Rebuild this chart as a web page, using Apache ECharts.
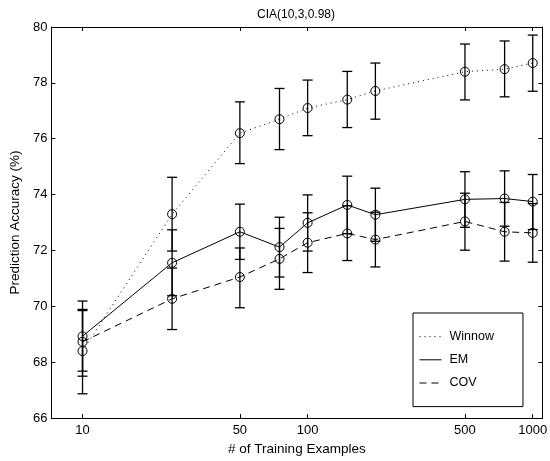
<!DOCTYPE html>
<html>
<head>
<meta charset="utf-8">
<script src="https://cdn.jsdelivr.net/npm/echarts@6/dist/echarts.min.js"></script>
<style>
html, body { margin: 0; padding: 0; background: #fff; }
#main { width: 550px; height: 461px; }
</style>
</head>
<body>
<div id="main"></div>
<script>
var chart = echarts.init(document.getElementById('main'));

// training set sizes
var sizes = [10, 25, 50, 75, 100, 150, 200, 500, 750, 1000];
var xTicks = [10, 50, 100, 500, 1000];

// accuracies with error bar ends (low / high)
var winnow     = [68.40, 73.30, 76.20, 76.70, 77.10, 77.40, 77.71, 78.40, 78.49, 78.71];
var winnowLow  = [66.87, 71.98, 75.11, 75.61, 76.11, 76.40, 76.70, 77.39, 77.50, 77.70];
var winnowHigh = [70.19, 74.62, 77.32, 77.80, 78.10, 78.41, 78.71, 79.39, 79.50, 79.71];

var em     = [68.93, 71.56, 72.67, 72.12, 72.99, 73.63, 73.28, 73.83, 73.86, 73.75];
var emLow  = [67.68, 70.38, 71.68, 71.05, 71.98, 72.60, 72.33, 72.83, 72.87, 72.75];
var emHigh = [69.89, 72.74, 73.66, 73.19, 73.99, 74.66, 74.23, 74.82, 74.85, 74.72];

var cov     = [68.73, 70.27, 71.05, 71.70, 72.28, 72.61, 72.39, 73.04, 72.67, 72.63];
var covLow  = [67.50, 69.17, 69.95, 70.61, 71.21, 71.64, 71.41, 72.01, 71.62, 71.58];
var covHigh = [69.85, 71.37, 72.09, 72.79, 73.35, 73.60, 73.37, 74.05, 73.72, 73.68];

var font = 'Liberation Sans, Arial, sans-serif';

function pts(ys) {
	return sizes.map(function (x, i) { return [x, ys[i]]; });
}
function bars(lo, hi) {
	return sizes.map(function (x, i) { return [x, lo[i], hi[i]]; });
}

function renderBar(params, api) {
	var top = api.coord([api.value(0), api.value(2)]);
	var bot = api.coord([api.value(0), api.value(1)]);
	var w = 5;
	var st = { stroke: '#000', lineWidth: 1.3 };
	return {
		type: 'group',
		children: [
			{ type: 'line', shape: { x1: top[0], y1: top[1], x2: bot[0], y2: bot[1] }, style: st },
			{ type: 'line', shape: { x1: top[0] - w, y1: top[1], x2: top[0] + w, y2: top[1] }, style: st },
			{ type: 'line', shape: { x1: bot[0] - w, y1: bot[1], x2: bot[0] + w, y2: bot[1] }, style: st }
		]
	};
}

function lineSeries(name, ys, dash) {
	return {
		name: name,
		type: 'line',
		data: pts(ys),
		symbol: 'circle',
		symbolSize: 9,
		z: 3,
		itemStyle: { color: 'rgba(0,0,0,0)', borderColor: '#000', borderWidth: 1 },
		lineStyle: { color: '#000', width: 1, type: dash },
		animation: false
	};
}
function barSeries(lo, hi) {
	return {
		type: 'custom',
		renderItem: renderBar,
		data: bars(lo, hi),
		encode: { x: 0, y: [1, 2] },
		z: 4,
		silent: true,
		animation: false
	};
}

var xCommon = {
	type: 'log',
	min: 7.27,
	max: 1104,
	splitLine: { show: false },
	axisLine: { lineStyle: { color: '#000', width: 1 } },
	axisTick: { inside: true, length: 4, customValues: xTicks, lineStyle: { color: '#000' } }
};
var yCommon = {
	type: 'value',
	min: 66,
	max: 80,
	interval: 2,
	splitLine: { show: false },
	axisLine: { show: true, lineStyle: { color: '#000', width: 1 } },
	axisTick: { inside: true, length: 4, lineStyle: { color: '#000' } }
};

var option = {
	backgroundColor: '#fff',
	animation: false,
	title: {
		text: 'CIA(10,3,0.98)',
		left: 291,
		textAlign: 'center',
		top: 4,
		textStyle: { fontFamily: font, fontSize: 12, fontWeight: 'normal', color: '#000' }
	},
	grid: { left: 42, right: 3, top: 27, bottom: 41 },
	legend: {
		orient: 'vertical',
		left: 413,
		top: 313,
		padding: [17, 29, 17, 6],
		itemGap: 10,
		itemWidth: 22,
		itemHeight: 14,
		backgroundColor: '#fff',
		borderColor: '#000',
		borderWidth: 1,
		borderRadius: 0,
		itemStyle: { opacity: 0 },
		lineStyle: { width: 1 },
		textStyle: { fontFamily: font, fontSize: 12.5, color: '#000', padding: [0, 0, 0, 3] },
		data: ['Winnow', 'EM', 'COV']
	},
	xAxis: [
		Object.assign({}, xCommon, {
			position: 'bottom',
			name: '# of Training Examples',
			nameLocation: 'middle',
			nameGap: 23,
			nameTextStyle: { fontFamily: font, fontSize: 13.5, color: '#000' },
			axisLabel: {
				customValues: xTicks,
				fontFamily: font, fontSize: 13, color: '#000', margin: 6,
				formatter: function (v) { return String(v); }
			}
		}),
		Object.assign({}, xCommon, { position: 'top', axisLabel: { show: false } })
	],
	yAxis: [
		Object.assign({}, yCommon, {
			position: 'left',
			name: 'Prediction Accuracy (%)',
			nameLocation: 'middle',
			nameGap: 25,
			nameTextStyle: { fontFamily: font, fontSize: 13.5, color: '#000' },
			axisLabel: { fontFamily: font, fontSize: 13, color: '#000', margin: 4 }
		}),
		Object.assign({}, yCommon, { position: 'right', axisLabel: { show: false } })
	],
	series: [
		lineSeries('Winnow', winnow, [1, 4]),
		lineSeries('EM', em, 'solid'),
		lineSeries('COV', cov, [7, 5]),
		barSeries(winnowLow, winnowHigh),
		barSeries(emLow, emHigh),
		barSeries(covLow, covHigh)
	]
};
chart.setOption(option);
</script>
</body>
</html>
